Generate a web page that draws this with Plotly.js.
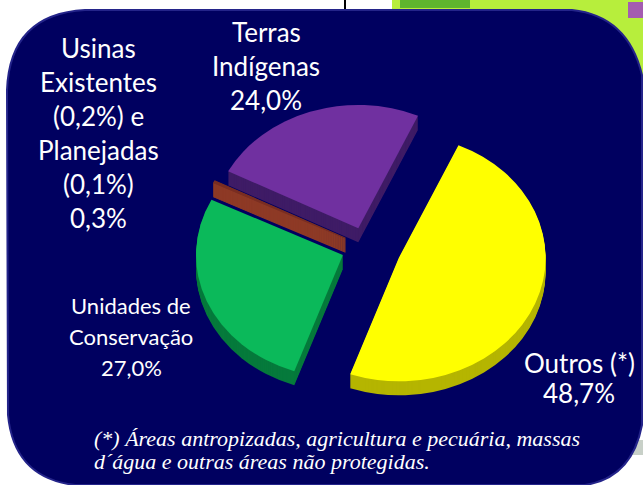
<!DOCTYPE html>
<html><head><meta charset="utf-8">
<script src="https://cdn.plot.ly/plotly-3.0.1.min.js"></script>
<style>html,body{margin:0;padding:0;background:#fff;overflow:hidden}</style>
</head><body><div id="chart" style="width:643px;height:485px"></div>
<script>
const categories = ['Outros (*)','Unidades de Conservação','Usinas Existentes (0,2%) e Planejadas (0,1%)','Terras Indígenas'];
const values = [48.7,27.0,0.3,24.0];
const topColors = ['#FFFF00','#0BB95A','#7A2E22','#7030A0'];
const wallColors = ['#B5B500','#067A3C','#8E3A26','#3F1C66'];
const pulls = [0.24,0.17,0.16,0.16];
const sliceEdge = [0,0,1,0];
const rotationDeg = 24;
const usinasLines = ['Usinas','Existentes','(0,2%) e','Planejadas','(0,1%)','0,3%'];
const terrasLines = ['Terras','Indígenas','24,0%'];
const unidadesLines = ['Unidades de','Conservação','27,0%'];
const outrosLines = ['Outros (*)','48,7%'];
const noteLines = ['(*) Áreas antropizadas, agricultura e pecuária, massas','d´água e outras áreas não protegidas.'];

const W=643,H=485,cx=366,cy=247,half=153,depth=14,sx=1.19;
const fx=x=>x/W, fy=y=>1-y/H;
function pieTrace(dy,colors){
  return {type:'pie',values:values,labels:categories,sort:false,direction:'clockwise',rotation:rotationDeg,
    pull:pulls,textinfo:'none',hoverinfo:'skip',showlegend:false,
    marker:{colors:colors,line:{width:sliceEdge,color:colors}},
    domain:{x:[(cx-half)/W,(cx+half)/W],y:[(H-cy-dy-half)/H,(H-cy-dy+half)/H]}};
}
const traces=[];
for(let d=depth;d>0;d-=1) traces.push(pieTrace(d,wallColors));
traces.push(pieTrace(0,topColors));
const P=(x,y)=>fx(x).toFixed(5)+','+fy(y).toFixed(5);
const panel='M '+P(7,90)+' Q '+P(10,14)+' '+P(85,10)+' L '+P(572,10)+' Q '+P(628,16)+' '+P(642,75)
  +' L '+P(642,425)+' Q '+P(632,478)+' '+P(585,485)+' L '+P(75,485)+' Q '+P(14,478)+' '+P(8,415)+' Z';
const rect=(x0,y0,x1,y1,c)=>({type:'rect',xref:'paper',yref:'paper',x0:fx(x0),x1:fx(x1),y0:fy(y1),y1:fy(y0),fillcolor:c,line:{width:0},layer:'below'});
const block=(lines,x,y0,step,size)=>lines.map((t,i)=>({xref:'paper',yref:'paper',x:fx(x),y:fy(y0+i*step),text:t,showarrow:false,
  font:{family:'Lato, Open Sans, sans-serif',size:size,color:'#fff'},align:'center',xanchor:'center',yanchor:'middle'}));
const notes=noteLines.map((t,i)=>({xref:'paper',yref:'paper',x:fx(92),y:fy(438+i*23),text:'<i>'+t+'</i>',showarrow:false,
  font:{family:'Liberation Serif, serif',size:22,color:'#fff'},align:'left',xanchor:'left',yanchor:'middle'}));
Plotly.newPlot('chart',traces,{
  width:W,height:H,margin:{l:0,r:0,t:0,b:0},paper_bgcolor:'#fff',plot_bgcolor:'#fff',
  shapes:[
    rect(392,0,643,14,'#B7EE3C'),
    rect(570,0,643,80,'#B7EE3C'),
    rect(400,0,470,8,'#5FB52E'),
    rect(628,2,643,18,'#A45CB0'),
    rect(344,0,346,10,'#000000'),
    rect(630,440,643,455,'#C8D0C8'),
    {type:'path',xref:'paper',yref:'paper',path:panel,fillcolor:'#000060',line:{color:'#24248A',width:2},layer:'below'}
  ],
  annotations:[].concat(
    block(usinasLines,98,48,34,26),
    block(terrasLines,266,32,34,26),
    block(unidadesLines,131,305,31,22),
    block(outrosLines,579,363,30,26),
    notes
  )
},{displayModeBar:false,staticPlot:true}).then(gd=>{
  gd.querySelectorAll('.pielayer').forEach(l=>l.setAttribute('transform',`translate(${cx} ${cy}) scale(${sx} 1) translate(${-cx} ${-cy})`));
});
</script></body></html>
